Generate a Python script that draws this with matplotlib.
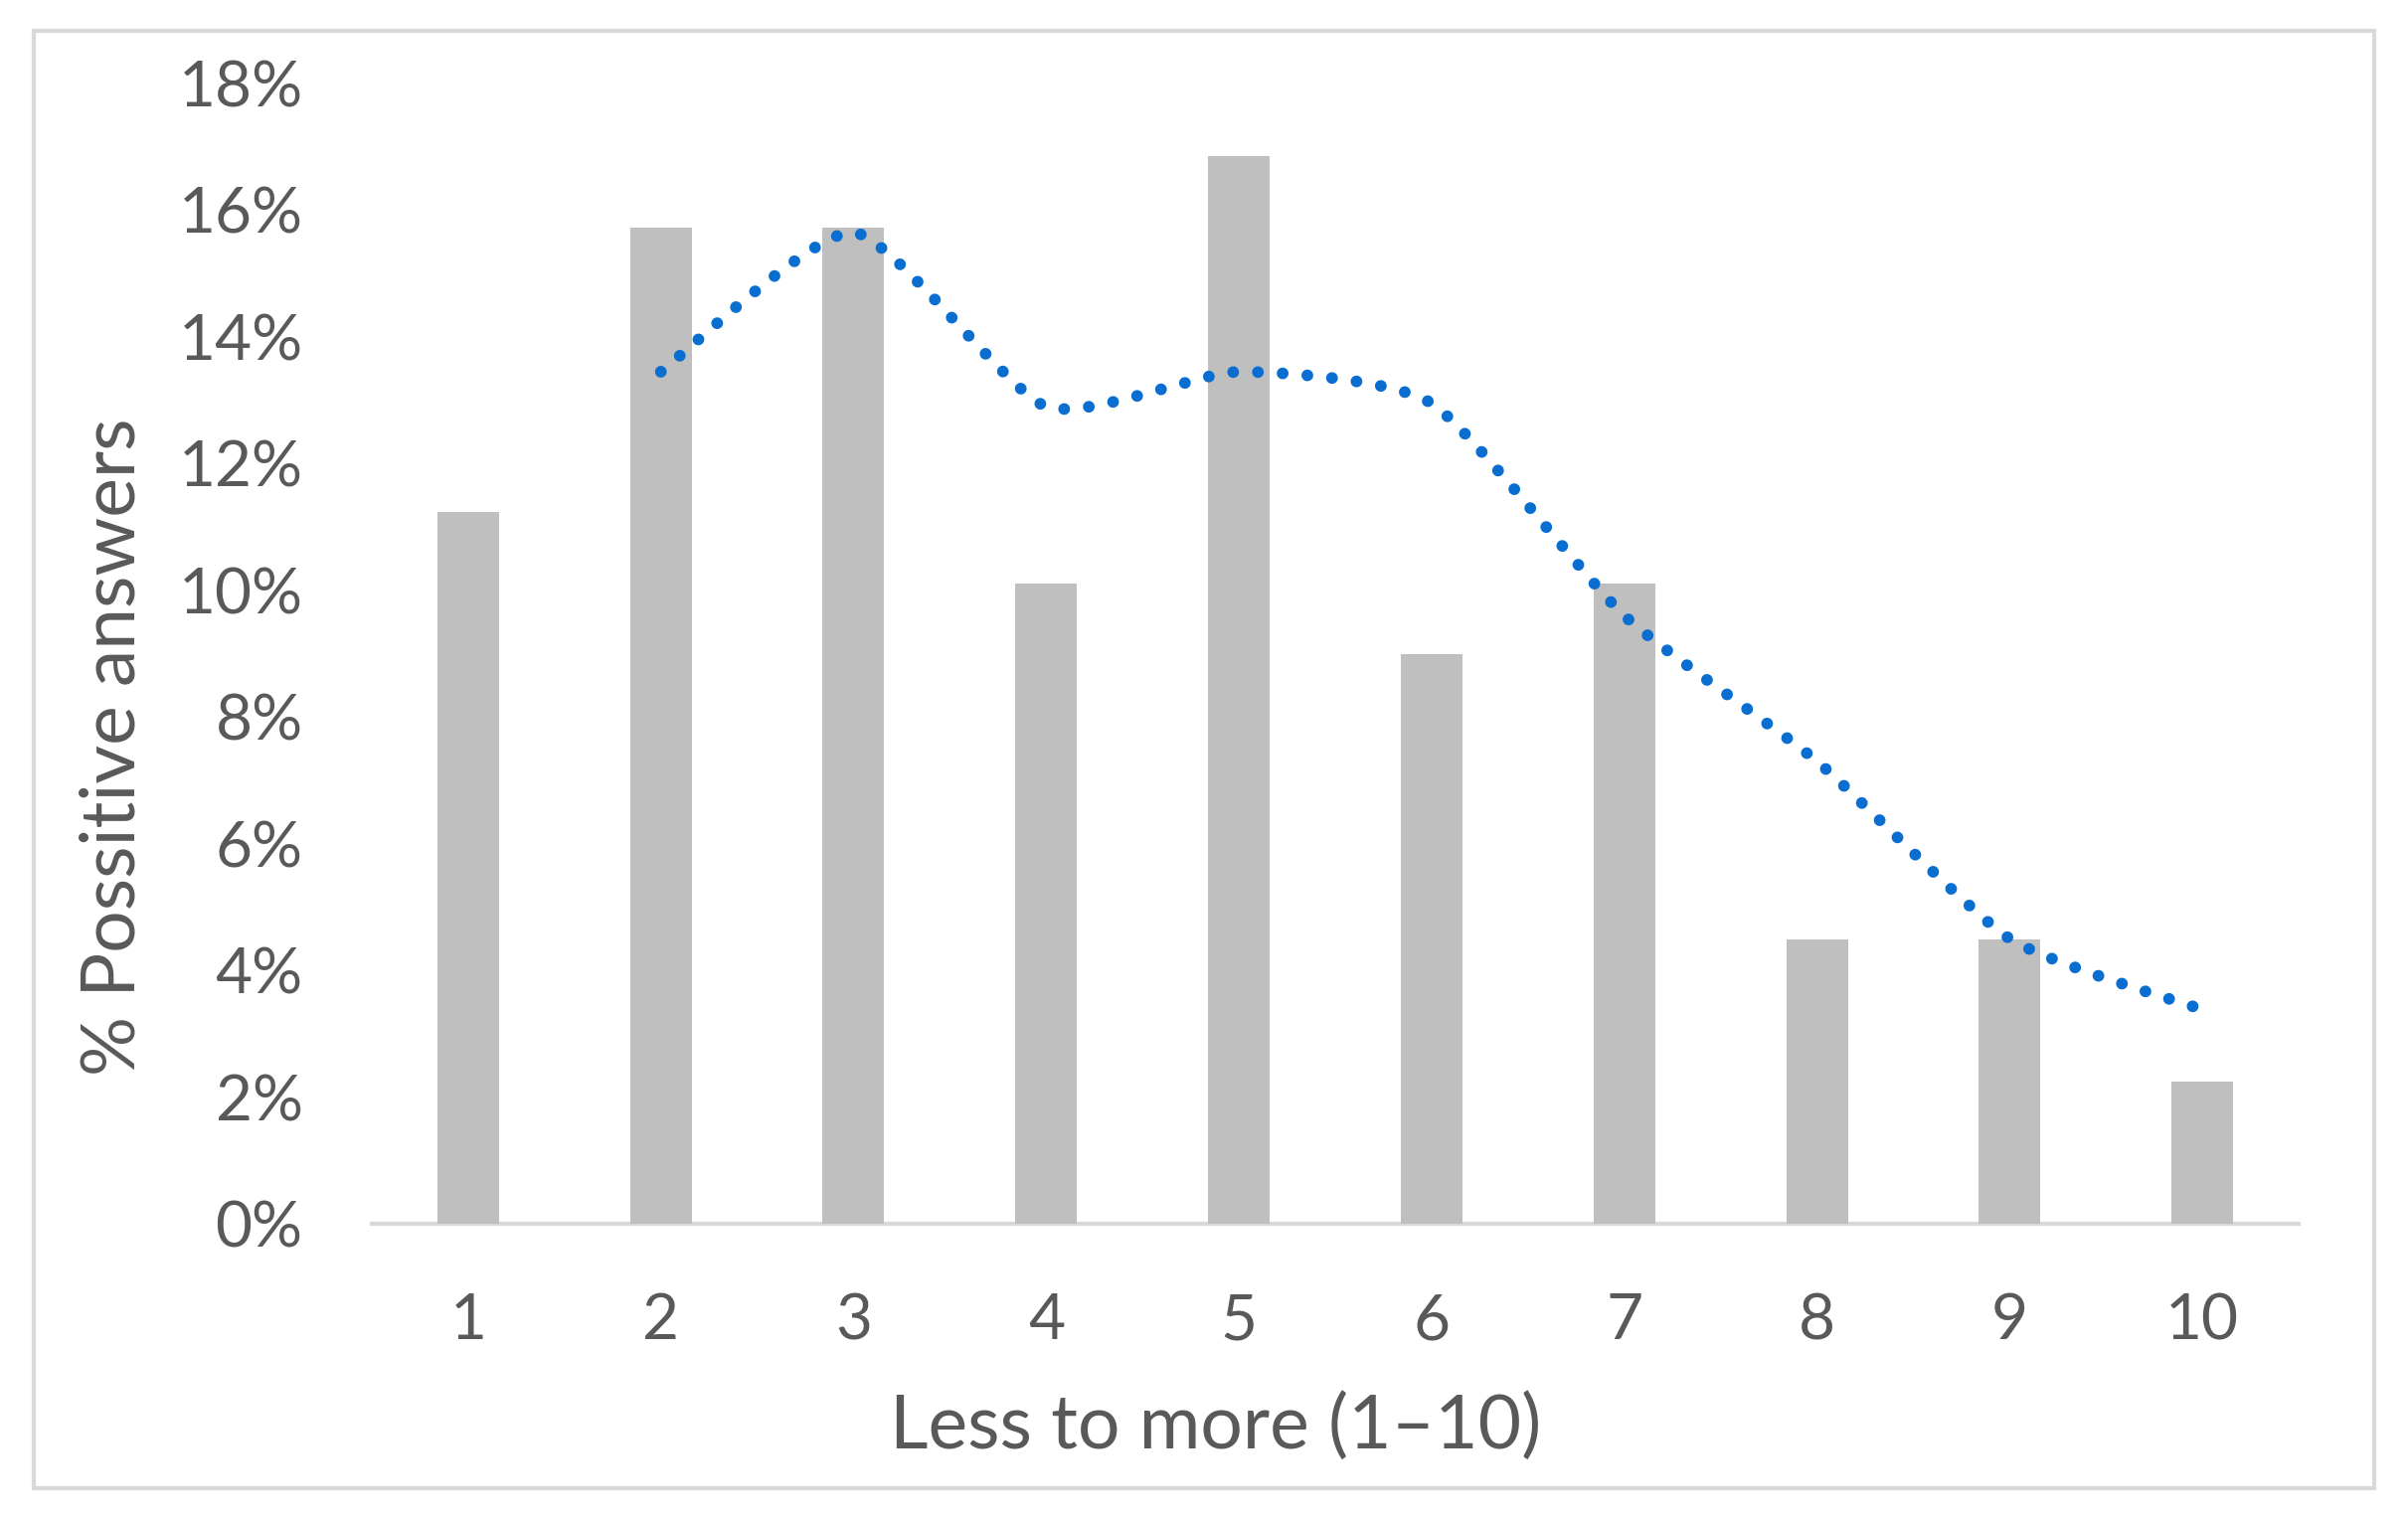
"""Bar chart of positive answers with a smoothed dotted trend line"""

import matplotlib

matplotlib.use("agg")

import matplotlib.pyplot as plt  # noqa: E402
from matplotlib.patches import PathPatch, Rectangle  # noqa: E402
from matplotlib.path import Path  # noqa: E402
from matplotlib.ticker import FuncFormatter  # noqa: E402

categories = [1, 2, 3, 4, 5, 6, 7, 8, 9, 10]
percent_positive = [11.24, 15.73, 15.73, 10.11, 16.85, 8.99, 10.11, 4.49, 4.49, 2.25]

# trend line (starts at the second category)
trend_x = [2, 3, 4, 5, 6, 7, 8, 9, 10]
trend_y = [13.45, 15.65, 12.9, 13.45, 12.95, 9.6, 7.3, 4.5, 3.38]

y_ticks = [0, 2, 4, 6, 8, 10, 12, 14, 16, 18]

TEXT = "#595959"
BAR = "#bfbfbf"
AXIS = "#d9d9d9"
TREND = "#0a6ed1"

plt.rcParams["font.family"] = ["Lato", "DejaVu Sans"]

fig = plt.figure(figsize=(24.22, 15.28), dpi=100)
ax = fig.add_axes([0.1544, 0.1944, 0.8002, 0.7506])

ax.bar(categories, percent_positive, width=0.32, color=BAR, zorder=2)


def smooth_path(xs, ys, tension=0.1):
    """Bezier path through the points, like a spreadsheet 'smoothed line'"""
    pts = list(zip(xs, ys))
    verts = [pts[0]]
    codes = [Path.MOVETO]
    for i in range(len(pts) - 1):
        p0 = pts[max(i - 1, 0)]
        p1 = pts[i]
        p2 = pts[i + 1]
        p3 = pts[min(i + 2, len(pts) - 1)]
        c1 = (p1[0] + (p2[0] - p0[0]) * tension, p1[1] + (p2[1] - p0[1]) * tension)
        c2 = (p2[0] - (p3[0] - p1[0]) * tension, p2[1] - (p3[1] - p1[1]) * tension)
        verts += [c1, c2, p2]
        codes += [Path.CURVE4] * 3
    return Path(verts, codes)


trend = PathPatch(
    smooth_path(trend_x, trend_y),
    fill=False,
    edgecolor=TREND,
    linewidth=8.5,
    linestyle=(0, (0.01, 2.1)),
    capstyle="round",
    zorder=3,
)
ax.add_patch(trend)

ax.set_xlim(0.5, 10.5)
ax.set_ylim(0, 18)
ax.set_xticks(categories)
ax.set_yticks(y_ticks)
ax.yaxis.set_major_formatter(FuncFormatter(lambda v, _: f"{v:.0f}%"))
ax.tick_params(axis="both", length=0, labelsize=46, labelcolor=TEXT)
ax.tick_params(axis="y", pad=50)
ax.tick_params(axis="x", pad=50)

for side in ["top", "right", "left"]:
    ax.spines[side].set_visible(False)
ax.spines["bottom"].set_color(AXIS)
ax.spines["bottom"].set_linewidth(3)
ax.spines["bottom"].set_zorder(1)

ax.set_xlabel("Less to more (1–10)", fontsize=54, color=TEXT, labelpad=30)
ax.set_ylabel("% Possitive answers", fontsize=54, color=TEXT, labelpad=22)
ax.xaxis.label.set_x(0.438)
ax.yaxis.label.set_y(0.418)

# chart area border
fig.patches.append(
    Rectangle(
        (0.014, 0.0203),
        0.972,
        0.9594,
        transform=fig.transFigure,
        fill=False,
        edgecolor=AXIS,
        linewidth=3,
    )
)

fig.savefig("out.png", dpi=100, facecolor="white")
